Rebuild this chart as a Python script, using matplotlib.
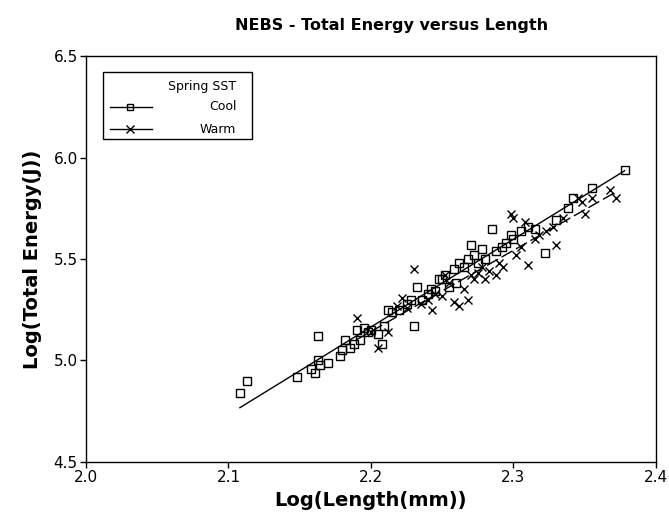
import matplotlib
matplotlib.use("Agg")
import matplotlib.pyplot as plt
from matplotlib.lines import Line2D
from matplotlib.patches import Rectangle
import numpy as np

# ---- data ----
cool_x = [2.108, 2.113, 2.148, 2.158, 2.161, 2.163, 2.163, 2.164, 2.170,
          2.178, 2.180, 2.182, 2.185, 2.188, 2.190, 2.192, 2.195, 2.198,
          2.200, 2.205, 2.208, 2.209, 2.212, 2.215, 2.220, 2.225, 2.228,
          2.230, 2.232, 2.236, 2.240, 2.242, 2.245, 2.248, 2.250, 2.252,
          2.255, 2.258, 2.260, 2.262, 2.265, 2.268, 2.270, 2.272, 2.275,
          2.278, 2.280, 2.285, 2.288, 2.292, 2.295, 2.298, 2.300, 2.305,
          2.310, 2.315, 2.322, 2.330, 2.338, 2.342, 2.355, 2.378]
cool_y = [4.84, 4.90, 4.92, 4.96, 4.94, 5.00, 5.12, 4.98, 4.99,
          5.02, 5.05, 5.10, 5.06, 5.08, 5.15, 5.10, 5.16, 5.14,
          5.15, 5.13, 5.08, 5.17, 5.25, 5.24, 5.25, 5.28, 5.30,
          5.17, 5.36, 5.30, 5.33, 5.35, 5.34, 5.40, 5.40, 5.42,
          5.36, 5.45, 5.38, 5.48, 5.46, 5.50, 5.57, 5.52, 5.48,
          5.55, 5.50, 5.65, 5.54, 5.56, 5.58, 5.62, 5.60, 5.64,
          5.66, 5.65, 5.53, 5.69, 5.75, 5.80, 5.85, 5.94]

warm_x = [2.190, 2.200, 2.205, 2.212, 2.218, 2.222, 2.225, 2.230, 2.235,
          2.240, 2.243, 2.245, 2.250, 2.252, 2.255, 2.258, 2.262, 2.265,
          2.268, 2.270, 2.272, 2.275, 2.278, 2.280, 2.283, 2.288, 2.290,
          2.293, 2.298, 2.300, 2.302, 2.305, 2.308, 2.310, 2.315, 2.318,
          2.323, 2.328, 2.330, 2.335, 2.345, 2.348, 2.350, 2.355, 2.368,
          2.372]
warm_y = [5.21, 5.14, 5.06, 5.14, 5.27, 5.31, 5.26, 5.45, 5.28,
          5.30, 5.25, 5.33, 5.32, 5.42, 5.38, 5.29, 5.27, 5.35,
          5.30, 5.42, 5.40, 5.43, 5.46, 5.40, 5.44, 5.42, 5.48,
          5.46, 5.72, 5.70, 5.52, 5.56, 5.68, 5.47, 5.60, 5.62,
          5.64, 5.66, 5.57, 5.70, 5.80, 5.78, 5.72, 5.80, 5.84,
          5.80]

x_ticks = [2.0, 2.1, 2.2, 2.3, 2.4]
y_ticks = [4.5, 5.0, 5.5, 6.0, 6.5]

plt.rcParams['font.family'] = ['DejaVu Sans']

fig = plt.figure(figsize=(6.69, 5.26), dpi=100)
ax = fig.add_axes([0.1285, 0.1217, 0.852, 0.7718])


def fit_line(x, y):
    x = np.asarray(x)
    k, b = np.polyfit(x, np.asarray(y), 1)
    xs = np.array([x.min(), x.max()])
    return xs, k * xs + b


# ---- points ----
ax.plot(cool_x, cool_y, linestyle='none', marker='s', markersize=5.5,
        markerfacecolor='none', markeredgecolor='black', markeredgewidth=1.0)
ax.plot(warm_x, warm_y, linestyle='none', marker='x', markersize=6,
        color='black', markeredgewidth=1.0)

# ---- fit lines ----
xs, ys = fit_line(cool_x, cool_y)
ax.plot(xs, ys, color='black', lw=1.0)
xs, ys = fit_line(warm_x, warm_y)
ax.plot(xs, ys, color='black', lw=1.0, dashes=(9, 3))

ax.set_xlim(2.0, 2.4)
ax.set_ylim(4.5, 6.5)
ax.set_xticks(x_ticks)
ax.set_yticks(y_ticks)
ax.set_xticklabels([f"{t:.1f}" for t in x_ticks], fontsize=11)
ax.set_yticklabels([f"{t:.1f}" for t in y_ticks], fontsize=11)
ax.tick_params(direction='out', length=4, width=1, pad=2)
for s in ax.spines.values():
    s.set_linewidth(1.0)

ax.set_xlabel("Log(Length(mm))", fontsize=14, fontweight='bold', labelpad=4)
ax.set_ylabel("Log(Total Energy(J))", fontsize=14, fontweight='bold', labelpad=8)
fig.suptitle("NEBS - Total Energy versus Length", fontsize=11.5,
             fontweight='bold', x=0.585, y=0.965)

# ---- legend (drawn by hand so the labels sit right-aligned) ----
ax.add_patch(Rectangle((0.030, 0.796), 0.261, 0.165, transform=ax.transAxes,
                       facecolor='white', edgecolor='black', lw=1.0, zorder=5))
ax.text(0.264, 0.926, "Spring SST", transform=ax.transAxes, ha='right',
        va='center', fontsize=9, zorder=6)
for yy, lab, mk in [(0.875, "Cool", 's'), (0.820, "Warm", 'x')]:
    ax.add_line(Line2D([0.042, 0.115], [yy, yy], transform=ax.transAxes,
                       color='black', lw=1.0, zorder=6))
    ax.add_line(Line2D([0.077], [yy], transform=ax.transAxes, marker=mk,
                       markersize=5 if mk == 's' else 5.5,
                       markerfacecolor='none' if mk == 's' else 'black',
                       markeredgecolor='black', markeredgewidth=1.0,
                       linestyle='none', zorder=7))
    ax.text(0.264, yy, lab, transform=ax.transAxes, ha='right', va='center',
            fontsize=9, zorder=6)

fig.savefig("out.png", dpi=100)
